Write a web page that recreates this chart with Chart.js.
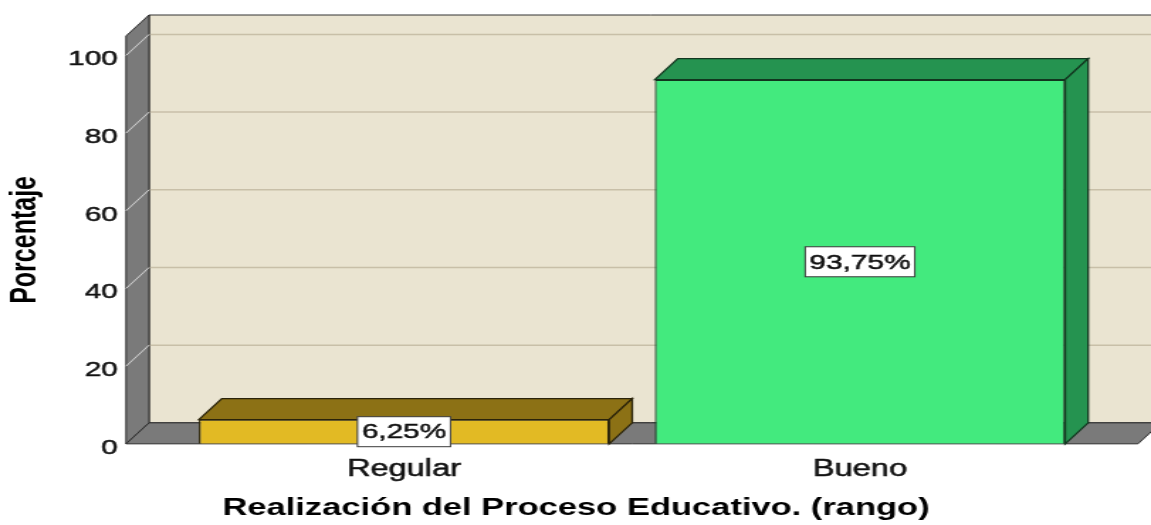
<!DOCTYPE html>
<html>
<head>
<meta charset="utf-8">
<script src="https://cdn.jsdelivr.net/npm/chart.js@4"></script>
<style>
body { margin: 0; background: #fff; }
canvas { display: block; }
</style>
</head>
<body>
<!-- The source picture was stretched sideways, so the chart is drawn narrow and widened by CSS -->
<canvas id="rango-viz" width="811" height="525" style="width:1151px;height:525px"></canvas>
<script>
// Values
var categories = ['Regular', 'Bueno'];
var percents = [6.25, 93.75];
var y_ticks = [0, 20, 40, 60, 80, 100];
var front_colors = ['#E2BA24', '#43EA7E'];
var shade_colors = ['#8C7115', '#259350'];
var edge_colors = ['#2a230a', '#12361f'];

var x_title = 'Realización del Proceso Educativo. (rango)';
var y_title = 'Porcentaje';

var FONT = "'Liberation Sans', Arial, sans-serif";
var DEPTH_X = 16.2, DEPTH_Y = -21;	// depth of the 3D box
var FRAME_MARGIN = 35.2;				// floor runs past the outer bars

function pct_label(v) { return v.toFixed(2).replace('.', ',') + '%'; }

function fill_poly(ctx, pts, fill, stroke, lw) {
	ctx.beginPath();
	ctx.moveTo(pts[0][0], pts[0][1]);
	for (var i = 1; i < pts.length; i++) ctx.lineTo(pts[i][0], pts[i][1]);
	ctx.closePath();
	ctx.fillStyle = fill;
	ctx.fill();
	if (stroke) {
		ctx.strokeStyle = stroke;
		ctx.lineWidth = lw || 1;
		ctx.stroke();
	}
}

// Walls, floor and grid lines of the 3D frame, drawn behind the bars
var frame3d = {
	id: 'frame3d',
	beforeDatasetsDraw: function(chart) {
		var ctx = chart.ctx, a = chart.chartArea, ys = chart.scales.y;
		var lf = a.left - FRAME_MARGIN, rf = a.right + FRAME_MARGIN;
		var top = ys.getPixelForValue(ys.max), bot = ys.getPixelForValue(0);
		ctx.save();

		// back wall
		fill_poly(ctx, [[lf + DEPTH_X, top + DEPTH_Y], [chart.width + 5, top + DEPTH_Y],
		                [chart.width + 5, bot + DEPTH_Y], [lf + DEPTH_X, bot + DEPTH_Y]], '#EAE4D1', '#333', 1);

		// grid lines on back wall
		ys.ticks.forEach(function(t) {
			if (t.value == 0) return;
			var py = ys.getPixelForValue(t.value);
			ctx.strokeStyle = '#C8BFA8';
			ctx.lineWidth = 1.5;
			ctx.beginPath();
			ctx.moveTo(lf + DEPTH_X, py + DEPTH_Y);
			ctx.lineTo(chart.width, py + DEPTH_Y);
			ctx.stroke();
		});

		// left side wall, with the grid slanting across it
		fill_poly(ctx, [[lf, top], [lf + DEPTH_X, top + DEPTH_Y], [lf + DEPTH_X, bot + DEPTH_Y], [lf, bot]],
		          '#7A7A7A', '#2b2b2b', 1);
		ys.ticks.forEach(function(t) {
			if (t.value == 0) return;
			var py = ys.getPixelForValue(t.value);
			ctx.strokeStyle = '#D6D6D6';
			ctx.lineWidth = 1;
			ctx.beginPath();
			ctx.moveTo(lf, py);
			ctx.lineTo(lf + DEPTH_X, py + DEPTH_Y);
			ctx.stroke();
		});

		// floor
		fill_poly(ctx, [[lf, bot], [rf, bot], [rf + DEPTH_X, bot + DEPTH_Y], [lf + DEPTH_X, bot + DEPTH_Y]],
		          '#7A7A7A', '#2b2b2b', 1);
		ctx.restore();
	},
	afterDatasetsDraw: function(chart) {
		var ctx = chart.ctx;
		var meta = chart.getDatasetMeta(0);
		ctx.save();
		meta.data.forEach(function(bar, i) {
			var p = bar.getProps(['x', 'y', 'base', 'width'], true);
			var l = p.x - p.width / 2, r = p.x + p.width / 2, t = p.y, b = p.base;
			// top and right faces of the box
			fill_poly(ctx, [[l, t], [l + DEPTH_X, t + DEPTH_Y], [r + DEPTH_X, t + DEPTH_Y], [r, t]],
			          shade_colors[i], edge_colors[i], 1.3);
			fill_poly(ctx, [[r, t], [r + DEPTH_X, t + DEPTH_Y], [r + DEPTH_X, b + DEPTH_Y], [r, b]],
			          shade_colors[i], edge_colors[i], 1.3);

			// value label in a white box on the front face
			var txt = pct_label(percents[i]);
			ctx.font = '21px ' + FONT;
			var w = ctx.measureText(txt).width + 6, h = 30;
			var cy = (t + b) / 2;
			ctx.fillStyle = '#fff';
			ctx.fillRect(p.x - w / 2, cy - h / 2, w, h);
			ctx.strokeStyle = '#3a3a3a';
			ctx.lineWidth = 1;
			ctx.strokeRect(p.x - w / 2, cy - h / 2, w, h);
			ctx.fillStyle = '#111';
			ctx.strokeStyle = '#111';
			ctx.lineWidth = 0.5;
			ctx.textAlign = 'center';
			ctx.textBaseline = 'middle';
			ctx.fillText(txt, p.x, cy + 1);
			ctx.strokeText(txt, p.x, cy + 1);
		});
		ctx.restore();
	}
};

var ctx = document.getElementById('rango-viz');
var cfg = {
	type: 'bar',
	data: {
		labels: categories,
		datasets: [{
			data: percents,
			backgroundColor: front_colors,
			borderColor: edge_colors,
			borderWidth: 1.3,
			barPercentage: 0.9,
			categoryPercentage: 1.0
		}]
	},
	options: {
		responsive: false,
		animation: false,
		layout: { padding: { left: 3, right: 2.2, top: 36, bottom: 2 } },
		plugins: {
			legend: { display: false },
			tooltip: { enabled: false },
			title: { display: true, position: 'bottom', text: x_title, color: '#000',
			         font: { family: FONT, size: 24.3, weight: 'bold' }, padding: 0 }
		},
		scales: {
			x: {
				grid: { display: false },
				border: { display: false },
				ticks: { color: '#111', font: { family: FONT, size: 23 }, padding: 4,
				         textStrokeColor: '#111', textStrokeWidth: 0.5 },
				afterFit: function(s) { s.height = 50; }
			},
			y: {
				min: 0,
				max: 105,
				grid: { display: false },
				border: { display: false },
				ticks: { padding: 33, labelOffset: 4, color: '#111', font: { family: FONT, size: 21 },
				         textStrokeColor: '#111', textStrokeWidth: 0.5 },
				afterBuildTicks: function(s) {
					s.ticks = y_ticks.map(function(v) { return { value: v }; });
				},
				afterFit: function(s) {
					// fixed width, and keep the big tick padding from pushing the plot down
					s.width = 121;
					s.paddingTop = 0;
					s.paddingBottom = 0;
				},
				title: { display: true, text: y_title, color: '#000', padding: 0,
				         font: { family: FONT, size: 25, weight: 'bold' } }
			},
			// empty strip on the right, so the x title is centred on the whole picture
			y_right: {
				type: 'linear',
				position: 'right',
				display: true,
				grid: { display: false },
				border: { display: false },
				ticks: { display: false },
				afterFit: function(s) {
					s.width = 42.2;
					s.paddingTop = 0;
					s.paddingBottom = 0;
				}
			}
		}
	},
	plugins: [frame3d]
};
new Chart(ctx, cfg);
</script>
</body>
</html>
